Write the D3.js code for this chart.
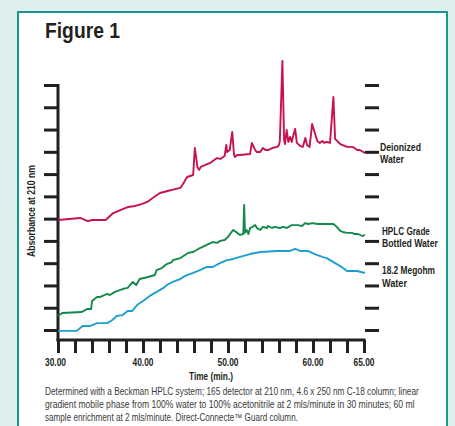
<!DOCTYPE html>
<html><head><meta charset="utf-8">
<script src="https://cdn.jsdelivr.net/npm/d3@7"></script>
<style>
html,body{margin:0;padding:0;background:#deeeee;}
svg{display:block;}
text{font-family:"Liberation Sans",Arial,sans-serif;}
</style></head>
<body>
<script>
// ---- data (time in minutes, absorbance in arbitrary tick units) ----
const deionizedTime = [30.0,32.6,33.5,34.0,35.6,36.5,37.4,38.2,39.1,39.9,40.5,41.3,42.0,42.9,43.4,44.4,44.7,45.2,45.9,46.1,46.4,46.6,46.8,47.9,48.7,49.1,49.6,49.8,49.9,50.2,50.5,50.7,50.8,51.1,51.4,52.6,52.8,53.2,53.4,53.8,54.1,54.4,54.7,55.2,55.8,56.0,56.1,56.4,56.6,56.7,56.9,57.1,57.3,57.5,57.6,57.9,58.1,58.5,58.8,59.1,59.3,59.6,59.9,60.5,60.8,61.1,61.3,61.6,62.0,62.4,62.6,63.2,64.0,64.7,65.2,65.5,66.1];
const deionizedAbs = [4.94,5.03,4.89,4.94,4.94,5.25,5.39,5.52,5.57,5.66,5.75,5.97,6.15,6.24,6.29,6.38,6.56,6.87,6.96,8.17,7.32,7.19,7.32,7.50,7.72,7.68,7.81,8.31,7.99,8.08,8.89,7.90,7.77,7.86,7.86,7.90,8.40,8.08,7.99,7.99,8.17,8.08,8.08,8.17,8.22,8.31,8.49,12.08,8.53,8.35,8.98,8.44,8.67,8.44,8.62,9.03,8.40,8.26,8.22,8.62,8.31,8.22,9.25,8.49,8.40,8.49,8.40,8.44,8.40,10.46,8.58,8.35,8.22,8.22,8.08,8.08,7.95];

const hplcTime = [30.0,30.5,32.8,33.4,33.9,34.0,34.6,34.9,35.8,36.1,36.7,37.6,38.2,38.8,39.2,39.6,40.6,41.4,41.6,42.2,42.8,43.4,43.5,44.4,45.3,45.9,46.7,47.5,48.2,48.7,49.1,49.6,50.0,50.6,51.1,51.4,51.8,51.9,52.0,52.2,52.4,52.6,52.9,53.2,53.4,53.8,54.1,54.6,54.7,55.2,55.5,56.1,56.5,56.9,57.5,58.2,58.7,59.1,59.4,60.0,60.5,62.4,62.8,63.2,63.5,64.0,64.6,64.9,65.3,65.8,66.1];
const hplcAbs = [0.63,0.76,0.81,0.94,0.94,1.30,1.48,1.48,1.62,1.57,1.71,1.84,1.89,2.16,2.02,2.29,2.38,2.47,2.69,2.78,2.96,3.05,3.14,3.23,3.46,3.50,3.68,3.82,3.95,3.91,4.00,4.04,4.18,4.49,4.36,4.27,4.31,5.61,4.36,4.49,4.31,4.58,4.63,4.71,4.58,4.49,4.63,4.58,4.67,4.58,4.63,4.58,4.63,4.58,4.71,4.71,4.67,4.80,4.76,4.80,4.76,4.76,4.63,4.45,4.40,4.36,4.36,4.31,4.31,4.22,4.27];

const megohmTime = [30.0,32.2,32.9,33.8,34.6,35.8,36.4,36.9,37.6,38.2,38.7,39.3,40.0,40.8,41.6,42.4,42.8,43.5,44.4,44.9,45.9,46.7,47.5,48.2,49.1,49.9,50.6,51.4,52.6,53.8,55.8,57.3,57.9,58.5,59.4,60.2,61.1,61.6,62.4,63.2,64.0,65.2,66.1];
const megohmAbs = [-0.04,-0.04,0.18,0.18,0.31,0.31,0.45,0.63,0.67,0.85,0.85,1.12,1.30,1.53,1.71,1.89,2.02,2.16,2.29,2.42,2.56,2.69,2.83,2.83,3.01,3.14,3.19,3.28,3.41,3.50,3.55,3.55,3.64,3.55,3.55,3.41,3.28,3.23,3.05,2.87,2.65,2.65,2.56];

const seriesNames = [["Deionized","Water"],["HPLC Grade","Bottled Water"],["18.2 Megohm","Water"]];
const xTickValues = [30,32,34,36,38,40,42,44,46,48,50,52,54,56,58,60,62,64,66];
const xTickLabels = {30:"30.00",40:"40.00",50:"50.00",60:"60.00",66:"65.00"};
const yTickValues = [0,1,2,3,4,5,6,7,8,9,10,11];
const titleText = "Figure 1";
const xTitle = "Time (min.)";
const yTitle = "Absorbance at 210 nm";
const captionLines = [
  "Determined with a Beckman HPLC system; 165 detector at 210 nm, 4.6 x 250 nm C-18 column; linear",
  "gradient mobile phase from 100% water to 100% acetonitrile at 2 mls/minute in 30 minutes; 60 ml",
  "sample enrichment at 2 mls/minute. Direct-Connecte\u2122 Guard column."
];

// ---- drawing ----
const W = 455, H = 426;
const colors = ["#c8124f", "#138a4a", "#1d9fcf"];
const ink = "#231f20";
const svg = d3.select("body").append("svg").attr("width", W).attr("height", H);

// condensed text: measure natural width, then squeeze horizontally to target width
function label(parent, str, x, y, size, weight, targetW, anchor, rot, fill) {
  const t = parent.append("text").attr("x", 0).attr("y", 0)
    .attr("font-size", size).attr("font-weight", weight)
    .attr("text-anchor", anchor || "start").attr("fill", fill || ink).text(str);
  const w = t.node().getComputedTextLength();
  const k = w > 0 ? targetW / w : 1;
  t.attr("transform", `translate(${x},${y}) rotate(${rot || 0}) scale(${k},1)`);
  return t;
}

svg.append("rect").attr("x", 0).attr("y", 0).attr("width", W).attr("height", H).attr("fill", "#deeeee");
svg.append("rect").attr("x", 18).attr("y", 12).attr("width", 429).attr("height", H)
  .attr("fill", "#ffffff").attr("stroke", "#13998e").attr("stroke-width", 2);

label(svg, titleText, 45, 38, 22.5, "bold", 75);

const x = d3.scaleLinear().domain([30, 66]).range([58, 364]);
const y = d3.scaleLinear().domain([0, 11]).range([330, 85]);
const yBottom = y.invert(340);

// Left axis
const yAxis = d3.axisLeft(y).tickValues(yTickValues).tickSize(14).tickFormat("");
const gy = svg.append("g").attr("transform", `translate(${x(30)},0)`).call(yAxis);
gy.select(".domain").remove();
gy.selectAll(".tick line").attr("stroke", ink).attr("stroke-width", 3);
svg.append("line").attr("x1", x(30)).attr("x2", x(30)).attr("y1", y(11) - 1).attr("y2", y(yBottom) + 1)
  .attr("stroke", ink).attr("stroke-width", 3);

// Right ticks (no spine)
const yAxisR = d3.axisRight(y).tickValues(yTickValues).tickSize(14).tickFormat("");
const gr = svg.append("g").attr("transform", `translate(${x(66) + 1},0)`).call(yAxisR);
gr.select(".domain").remove();
gr.selectAll(".tick line").attr("stroke", ink).attr("stroke-width", 3);

// Bottom axis
const xAxis = d3.axisBottom(x).tickValues(xTickValues).tickSize(13).tickFormat("");
const gx = svg.append("g").attr("transform", `translate(0,${y(yBottom)})`).call(xAxis);
gx.select(".domain").remove();
gx.selectAll(".tick line").attr("stroke", ink).attr("stroke-width", 3);
xTickValues.filter(v => xTickLabels[v]).forEach(v => {
  label(svg, xTickLabels[v], x(v) - (v === 30 ? 2.5 : 0), 366, 10, "bold", 21, "middle");
});
svg.append("line").attr("x1", x(30) - 1.5).attr("x2", x(66) + 1.5).attr("y1", y(yBottom)).attr("y2", y(yBottom))
  .attr("stroke", ink).attr("stroke-width", 3);

// Lines
const datasets = [
  deionizedTime.map((t, i) => [t, deionizedAbs[i]]),
  hplcTime.map((t, i) => [t, hplcAbs[i]]),
  megohmTime.map((t, i) => [t, megohmAbs[i]])
];
const line = d3.line().x(d => x(d[0])).y(d => y(d[1]));
datasets.forEach((ds, i) => {
  svg.append("path").datum(ds).attr("d", line).attr("fill", "none")
    .attr("stroke", colors[i]).attr("stroke-width", 1.9).attr("stroke-linejoin", "round");
});

// Series labels
const labelPos = [[380, 151, 163], [382, 235, 247], [382, 274, 287]];
const labelW = [[41, 24], [48, 56], [53, 25]];
seriesNames.forEach((lines, i) => {
  lines.forEach((s, j) => {
    label(svg, s, labelPos[i][0], labelPos[i][j + 1], 10.5, "bold", labelW[i][j]);
  });
});

// Axis titles
label(svg, xTitle, 211, 380, 10.5, "bold", 44, "middle");
label(svg, yTitle, 35, 211, 10, "bold", 92, "middle", -90);

// Caption
const capW = [374, 370, 253];
captionLines.forEach((s, i) => {
  label(svg, s, 45, 395 + i * 13, 10, "normal", capW[i], "start", 0, "#3a3a3a");
});
</script>
</body></html>
